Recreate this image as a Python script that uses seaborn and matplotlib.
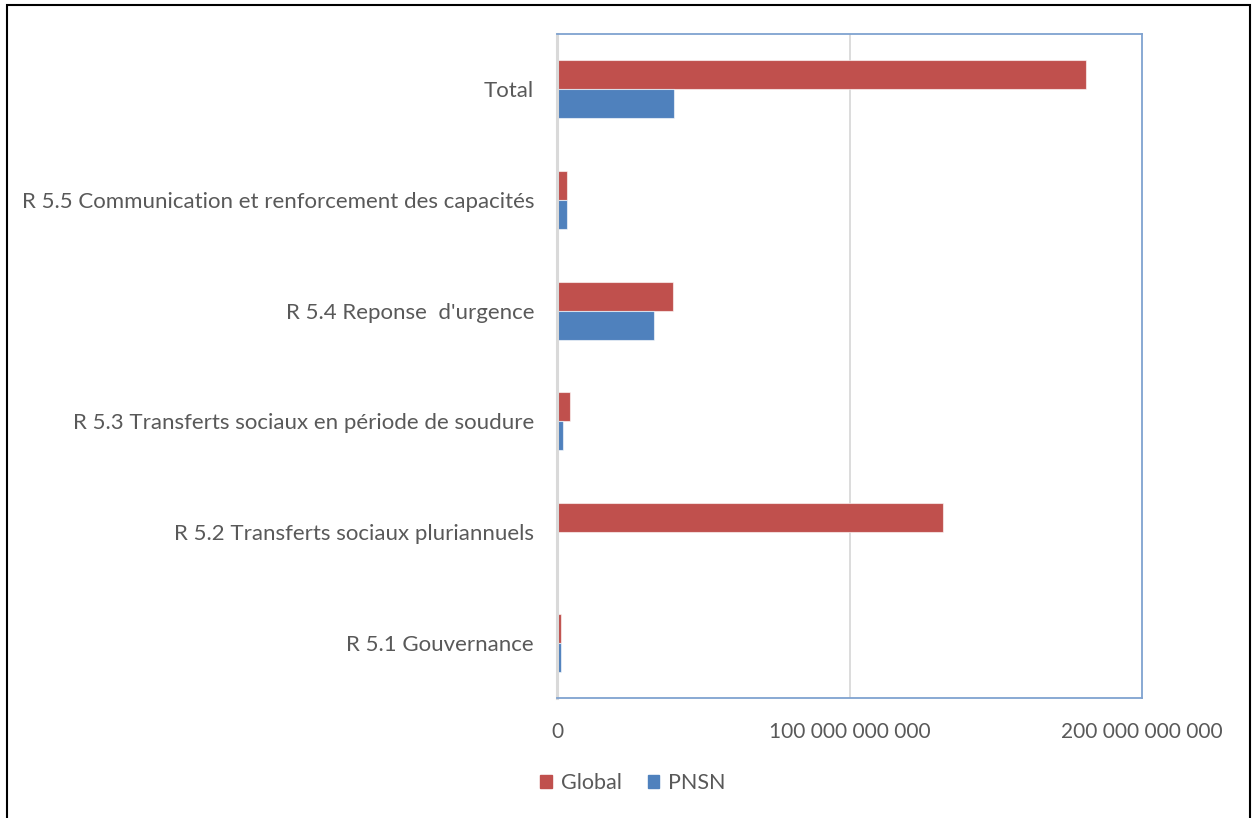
import matplotlib
matplotlib.use("Agg")
import matplotlib.pyplot as plt
import matplotlib.patches as mpatches
from matplotlib.ticker import FuncFormatter, FixedLocator
import seaborn as sns
import pandas as pd

# Budget by result line (FCFA)
categories = [
    "Total",
    "R 5.5 Communication et renforcement des capacités",
    "R 5.4 Reponse  d'urgence",
    "R 5.3 Transferts sociaux en période de soudure",
    "R 5.2 Transferts sociaux pluriannuels",
    "R 5.1 Gouvernance",
]
global_values = [181.0e9, 3.25e9, 39.6e9, 4.6e9, 132.0e9, 1.5e9]
pnsn_values = [40.0e9, 3.25e9, 33.1e9, 2.05e9, 0.0, 1.5e9]
series_names = ["Global", "PNSN"]
x_ticks = [0, 100e9, 200e9]

colors = {"Global": "#C0504D", "PNSN": "#4F81BD"}
text_color = "#595959"

df = pd.DataFrame({
    "categorie": categories * 2,
    "serie": [series_names[0]] * len(categories) + [series_names[1]] * len(categories),
    "montant": global_values + pnsn_values,
})

sns.set_theme(style="white")
plt.rcParams["font.family"] = ["Lato", "DejaVu Sans"]

fig = plt.figure(figsize=(12.52, 8.18), dpi=100)
ax = fig.add_axes([557 / 1252, 1 - 698 / 818, (1142 - 557) / 1252, (698 - 34) / 818])

sns.barplot(
    data=df, y="categorie", x="montant", hue="serie", order=categories,
    hue_order=series_names, palette=colors, saturation=1, orient="h",
    width=0.524, gap=0, edgecolor=(1, 1, 1, 0.6), linewidth=0.8,
    legend=False, ax=ax,
)

ax.set_xlim(0, 200e9)
ax.set_ylim(len(categories) - 0.5, -0.5)
ax.xaxis.set_major_locator(FixedLocator(x_ticks))


def fmt(v, _):
    return f"{int(round(v)):,}".replace(",", " ")


ax.xaxis.set_major_formatter(FuncFormatter(fmt))
ax.set_xlabel("")
ax.set_ylabel("")
ax.tick_params(axis="x", length=0, pad=17, labelsize=15, labelcolor=text_color)
ax.tick_params(axis="y", length=0, pad=16.5, labelsize=16, labelcolor=text_color)

# gridline at 100 billion, drawn behind bars
ax.axvline(100e9, color="#D9D9D9", lw=1.3, zorder=0)

for side in ("top", "right", "bottom"):
    ax.spines[side].set_color("#7FA2D0")
    ax.spines[side].set_linewidth(1.3)
    ax.spines[side].set_visible(True)
ax.spines["left"].set_color("#D9D9D9")
ax.spines["left"].set_linewidth(2.2)
ax.spines["left"].set_zorder(1)

handles = [mpatches.Patch(color=colors[s], label=s) for s in series_names]
fig.legend(
    handles=handles, loc="center", bbox_to_anchor=(633 / 1252, 1 - 783 / 818),
    ncol=2, frameon=False, fontsize=15.5, labelcolor=text_color,
    handlelength=0.55, handleheight=0.55, handletextpad=0.4, columnspacing=1.2,
)

# outer frame of the chart area
frame = mpatches.Rectangle(
    (6.5 / 1252, -0.05), (1249.5 - 6.5) / 1252, 1.05 - 5.5 / 818,
    transform=fig.transFigure, fill=False, edgecolor="black", lw=1.5,
)
fig.patches.append(frame)

fig.savefig("out.png", dpi=100, facecolor="white")
